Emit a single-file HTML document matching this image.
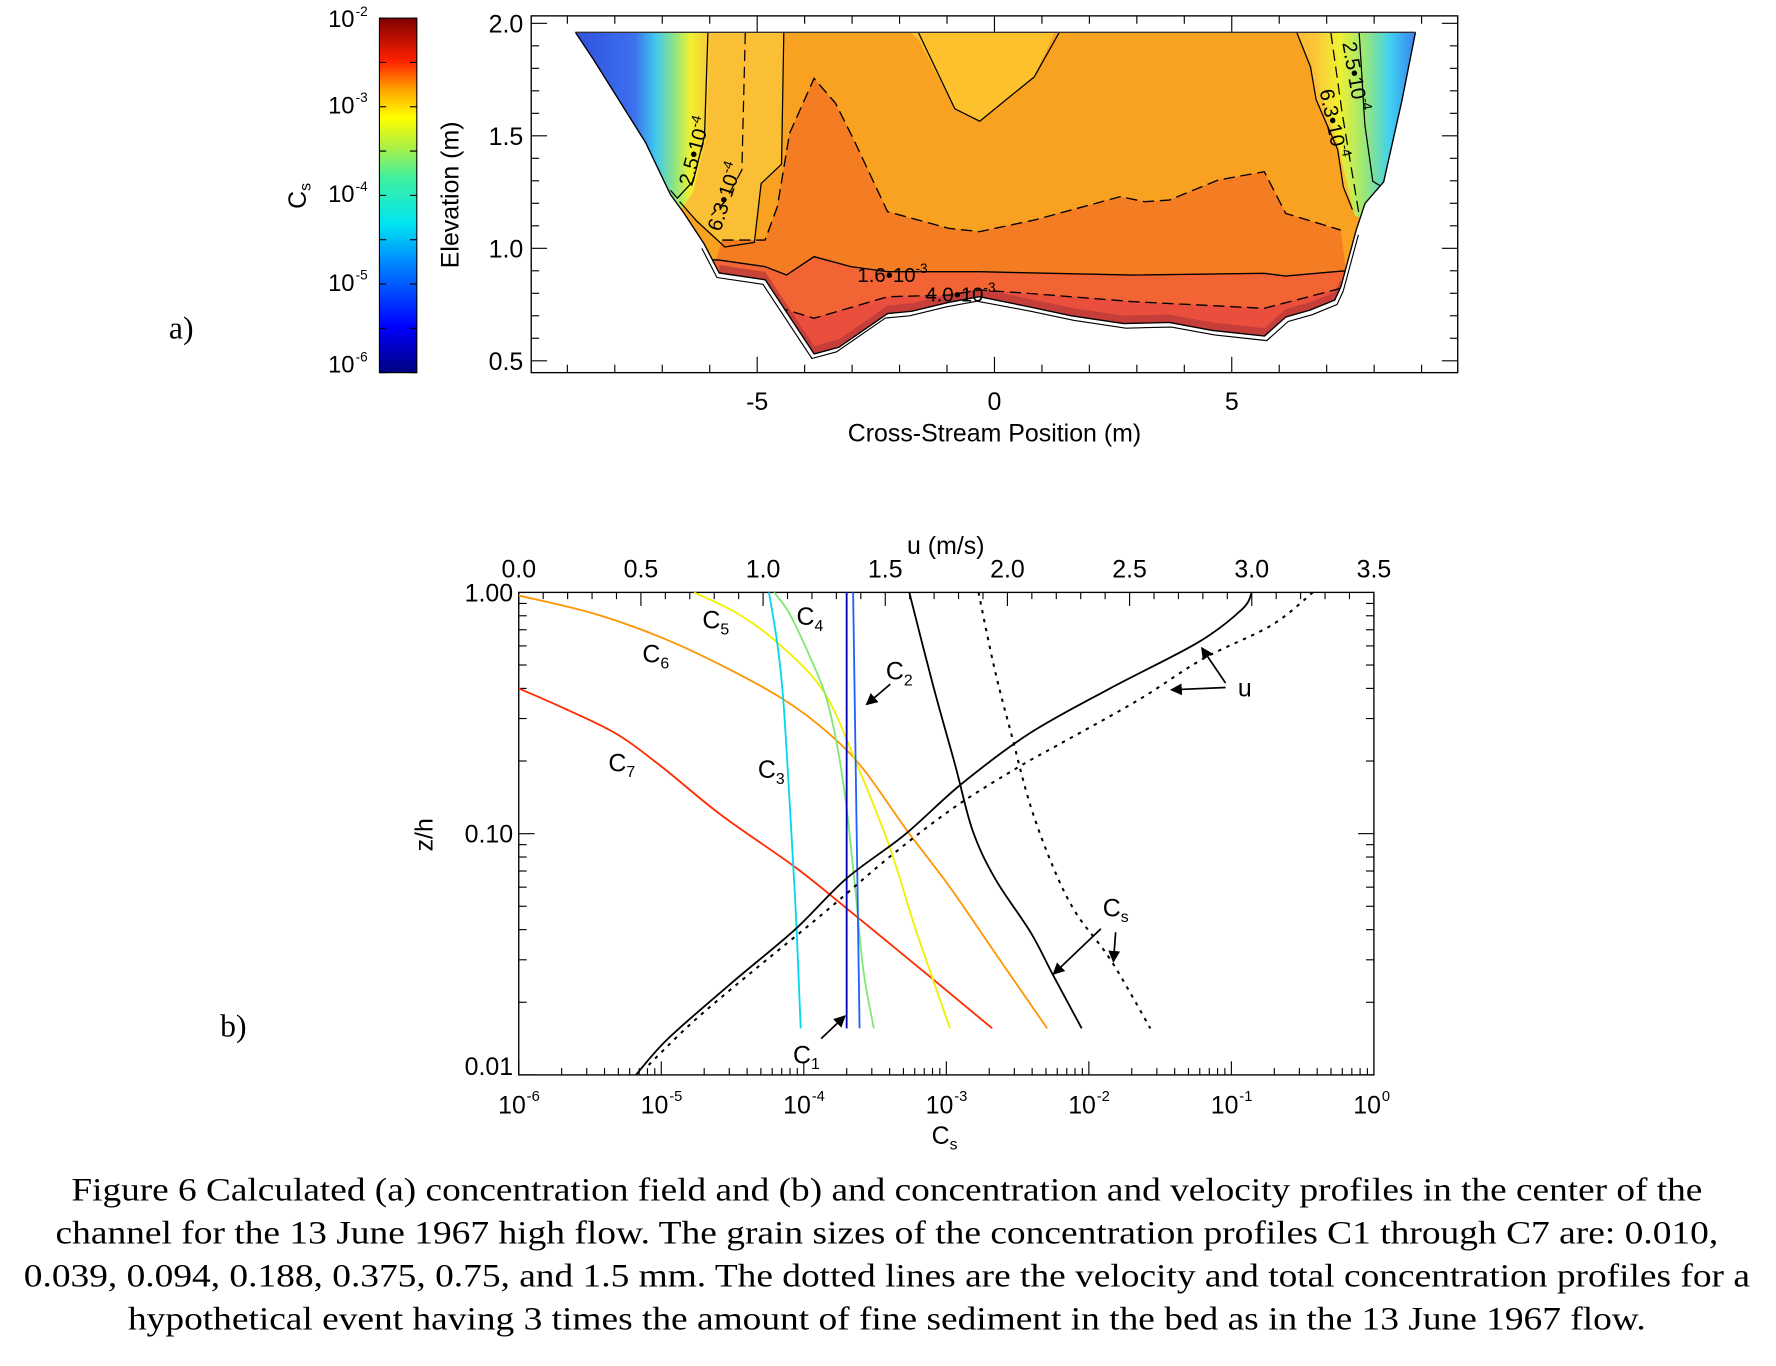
<!DOCTYPE html>
<html><head><meta charset="utf-8">
<style>
html,body{margin:0;padding:0;background:#fff;}
svg{display:block;}
text{font-family:"Liberation Sans",sans-serif;fill:#000;}
.serif{font-family:"Liberation Serif",serif;}
</style></head>
<body>
<svg id="fig" xmlns="http://www.w3.org/2000/svg" width="1776" height="1366" viewBox="0 0 1568 1206">
<defs>
<linearGradient id="jet" x1="0" y1="1" x2="0" y2="0">
<stop offset="0" stop-color="#00007f"/><stop offset="0.13" stop-color="#0000ff"/>
<stop offset="0.32" stop-color="#0090ff"/><stop offset="0.42" stop-color="#00e5f0"/>
<stop offset="0.55" stop-color="#40f0a0"/><stop offset="0.64" stop-color="#b0f040"/>
<stop offset="0.72" stop-color="#ffff00"/><stop offset="0.8" stop-color="#ffa000"/>
<stop offset="0.88" stop-color="#ff2000"/><stop offset="1" stop-color="#7f0000"/>
</linearGradient>
<linearGradient id="leftcold" gradientUnits="userSpaceOnUse" x1="505" y1="0" x2="628" y2="0">
<stop offset="0" stop-color="#3050e0"/><stop offset="0.45" stop-color="#3c70ee"/>
<stop offset="0.6" stop-color="#40c8f0"/><stop offset="0.75" stop-color="#98e878"/>
<stop offset="0.85" stop-color="#f0f030"/><stop offset="1" stop-color="#fbc43a"/>
</linearGradient>
<linearGradient id="rightcold" gradientUnits="userSpaceOnUse" x1="1160" y1="0" x2="1250" y2="0">
<stop offset="0" stop-color="#fbc43a"/><stop offset="0.25" stop-color="#f0f030"/>
<stop offset="0.5" stop-color="#98e878"/><stop offset="0.75" stop-color="#40d0f0"/>
<stop offset="1" stop-color="#3a80ee"/>
</linearGradient>
<clipPath id="chanclip"><polygon id="chanclipPoly" points=""/></clipPath>
<marker id="arr" viewBox="0 0 10 10" refX="9" refY="5" markerWidth="7" markerHeight="7" orient="auto"><path d="M0,0 L10,5 L0,10 z" fill="#000"/></marker>
</defs>
<g id="panelA"></g>
<g id="panelB"></g>
<g id="caption">
<text class="serif" x="783" y="1060" font-size="29" text-anchor="middle" textLength="1440" lengthAdjust="spacingAndGlyphs">Figure 6 Calculated (a) concentration field and (b) and concentration and velocity profiles in the center of the</text>
<text class="serif" x="783" y="1098" font-size="29" text-anchor="middle" textLength="1468" lengthAdjust="spacingAndGlyphs">channel for the 13 June 1967 high flow. The grain sizes of the concentration profiles C1 through C7 are: 0.010,</text>
<text class="serif" x="783" y="1136" font-size="29" text-anchor="middle" textLength="1524" lengthAdjust="spacingAndGlyphs">0.039, 0.094, 0.188, 0.375, 0.75, and 1.5 mm. The dotted lines are the velocity and total concentration profiles for a</text>
<text class="serif" x="783" y="1174" font-size="29" text-anchor="middle" textLength="1340" lengthAdjust="spacingAndGlyphs">hypothetical event having 3 times the amount of fine sediment in the bed as in the 13 June 1967 flow.</text>
</g>
</svg>
<script>
// ---------- Panel a data ----------
var bedX = [-8.83,-8.45,-7.35,-6.83,-6.54,-6.12,-5.80,-4.83,-3.80,-3.28,-2.25,-1.74,-0.96,-0.32,0.72,1.62,2.72,3.68,4.59,5.69,6.14,6.65,7.17,7.30,7.62,7.81,8.20,8.59,8.87];
var bedZ = [1.96,1.84,1.47,1.24,1.155,1.02,0.89,0.86,0.53,0.56,0.71,0.72,0.76,0.785,0.74,0.70,0.665,0.67,0.635,0.61,0.695,0.725,0.77,0.83,1.08,1.20,1.295,1.66,1.96];
var waterLevel = 1.96;
var elevTicks = [0.5,1.0,1.5,2.0];
var elevTickLabels = ["0.5","1.0","1.5","2.0"];
var crossTicks = [-5,0,5];
var crossTickLabels = ["-5","0","5"];
var cbarExps = [-2,-3,-4,-5,-6];

// ---------- Panel b data ----------
var zC1=[1.0,0.0156], vC1=[2.0e-4,2.0e-4];
var zC2=[1.0,0.0156], vC2=[2.22e-4,2.46e-4];
var zC3=[1.0,0.62,0.35,0.099,0.040,0.0156], vC3=[5.7e-5,6.5e-5,7.2e-5,8.2e-5,8.9e-5,9.5e-5];
var zC4=[1.0,0.82,0.55,0.37,0.225,0.13,0.06,0.027,0.0156], vC4=[6.2e-5,7.9e-5,1.09e-4,1.43e-4,1.73e-4,1.99e-4,2.29e-4,2.62e-4,3.1e-4];
var zC5=[1.0,0.82,0.62,0.39,0.19,0.088,0.040,0.0156], vC5=[1.7e-5,3.4e-5,6.5e-5,1.37e-4,2.39e-4,4.0e-4,6.1e-4,1.06e-3];
var zC6=[0.97,0.82,0.65,0.49,0.36,0.26,0.185,0.103,0.06,0.032,0.0156], vC6=[1e-6,3.3e-6,1.0e-5,2.8e-5,7.2e-5,1.5e-4,2.62e-4,5.3e-4,1.06e-3,2.2e-3,5.1e-3];
var zC7=[0.40,0.33,0.26,0.19,0.12,0.073,0.049,0.025,0.0156], vC7=[1e-6,2.1e-6,4.8e-6,1.0e-5,2.6e-5,8.6e-5,2.0e-4,8.0e-4,2.1e-3];
var zCs=[1.0,0.42,0.19,0.103,0.065,0.039,0.026,0.0156], vCs=[5.5e-4,8.0e-4,1.16e-3,1.53e-3,2.2e-3,3.9e-3,5.6e-3,8.9e-3];
var zCsHyp=[1.0,0.47,0.25,0.13,0.073,0.047,0.030,0.0156], vCsHyp=[1.68e-3,2.2e-3,2.9e-3,3.9e-3,5.6e-3,8.1e-3,1.42e-2,2.7e-2];
var zU=[1.0,0.85,0.62,0.40,0.26,0.16,0.099,0.065,0.040,0.024,0.0141,0.01], vU=[3.0,2.96,2.78,2.42,2.09,1.81,1.58,1.34,1.13,0.87,0.61,0.48];
var zUHyp=[1.0,0.73,0.53,0.36,0.24,0.19,0.13,0.082,0.047,0.026,0.0165,0.0107], vUHyp=[3.25,3.08,2.80,2.54,2.23,2.05,1.79,1.53,1.25,0.94,0.71,0.52];
var uTicks=[0,0.5,1.0,1.5,2.0,2.5,3.0,3.5];
var uTickLabels=["0.0","0.5","1.0","1.5","2.0","2.5","3.0","3.5"];
var cExps=[-6,-5,-4,-3,-2,-1,0];
var zhTicks=[1,0.1,0.01];
var zhTickLabels=["1.00","0.10","0.01"];

var NS="http://www.w3.org/2000/svg";
function mk(parent,tag,attrs,txt){var e=document.createElementNS(NS,tag);for(var k in attrs)e.setAttribute(k,attrs[k]);if(txt!==undefined)e.textContent=txt;parent.appendChild(e);return e;}

// ===== Panel a =====
var A=document.getElementById('panelA');
var ax0=469,ax1=1287,ay0=14,ay1=329;
function xA(m){return 878+m*41.9;}
function yA(e){return 20.6+(2-e)*198.6;}
var chanPts=[];
for(var i=0;i<bedX.length;i++)chanPts.push(xA(bedX[i]).toFixed(1)+","+yA(bedZ[i]).toFixed(1));
document.getElementById('chanclipPoly').setAttribute('points',chanPts.join(' '));

var field=mk(A,'g',{'clip-path':'url(#chanclip)'});


mk(field,'rect',{x:ax0,y:ay0,width:ax1-ax0,height:ay1-ay0,fill:'#f9a222'});
mk(field,'polygon',{points:'590,20 692,20 690,145 672,162 666,214 640,218 615,195 595,175',fill:'#fbbf36'});
mk(field,'polygon',{points:'1140,20 1260,20 1260,200 1194,185 1186,165 1181,132 1162,88 1157,59',fill:'#fbbf36'});
mk(field,'polygon',{points:'500,20 628,20 624,120 612,170 596,192 540,190',fill:'url(#leftcold)'});
mk(field,'polygon',{points:'1152,20 1260,20 1260,220 1196,190 1182,130 1165,80',fill:'url(#rightcold)'});
mk(field,'polygon',{points:'794,20 935,20 913,68 892,85 870,103 865,107 843,96 811,35',fill:'#fcc12c'});
var orangeLine='637.6,211.9 675.5,211.9 686.3,182.5 697.1,117.7 718.7,69.2 737.7,91.2 753.9,123.6 783.6,186.9 837.7,201.6 864.7,204.5 913.4,194.2 989.1,173.6 1010.7,178.1 1032.3,176.6 1075.6,158.9 1116.2,151.6 1135.1,188.4 1183.7,203.1';
mk(field,'polygon',{points:orangeLine+' 1200,330 600,330',fill:'#f47c22'});
var redLine='600,228 635,229.6 675.5,235.4 694.4,242.8 718.7,226.6 751.2,235.4 783.6,239.9 864.7,239.9 1000,242.8 1116.2,241.3 1135.1,243.7 1178.3,239.9 1200,238';
mk(field,'polygon',{points:redLine+' 1200,330 600,330',fill:'#f26434'});
var red2='600,245 718.7,281 783.6,262 837.7,260.5 864.7,256 908,259 1000,266.3 1116.2,272.2 1178.3,256 1200,250';
mk(field,'polygon',{points:red2+' 1200,330 600,330',fill:'#ea4e3c'});
// near-bed dark strip (channel floor only)
var sTop=[],sBot=[];
for(var i=6;i<=23;i++){sTop.push(xA(bedX[i]).toFixed(1)+","+yA(bedZ[i]).toFixed(1));}
for(var i=23;i>=6;i--){sBot.push(xA(bedX[i]).toFixed(1)+","+(yA(bedZ[i])-7).toFixed(1));}
mk(field,'polygon',{points:sTop.join(' ')+' '+sBot.join(' '),fill:'#b83a3a',opacity:'0.75'});
// contour lines
mk(field,'polyline',{points:orangeLine,fill:'none',stroke:'#000','stroke-width':1.2,'stroke-dasharray':'10,5'});
mk(field,'polyline',{points:redLine,fill:'none',stroke:'#000','stroke-width':1.2});
mk(field,'polyline',{points:red2,fill:'none',stroke:'#000','stroke-width':1.2,'stroke-dasharray':'10,5'});
mk(field,'polyline',{points:'811,29 843,96 865,107 870,103 892,85 913,68 935,29',fill:'none',stroke:'#000','stroke-width':1.1});
mk(field,'polyline',{points:'692,29 690,145 672,162 666,214 640,218 615,195 600,178',fill:'none',stroke:'#000','stroke-width':1.1});
mk(field,'polyline',{points:'625,29 622,120 612,160 598,175 592,168',fill:'none',stroke:'#000','stroke-width':1.1});
mk(field,'polyline',{points:'658,29 655,150 640,178 628,190',fill:'none',stroke:'#000','stroke-width':1.1,'stroke-dasharray':'10,5'});
mk(field,'polyline',{points:'1145,29 1157,59 1162,88 1181,132 1186,165 1194,185',fill:'none',stroke:'#000','stroke-width':1.1});
mk(field,'polyline',{points:'1175,29 1185,100 1195,160 1200,190',fill:'none',stroke:'#000','stroke-width':1.1,'stroke-dasharray':'10,5'});
mk(field,'polyline',{points:'1200,29 1205,110 1212,160 1220,165',fill:'none',stroke:'#000','stroke-width':1.1});
// bed outline
var bedLine=mk(A,'polyline',{points:chanPts.join(' '),fill:'none',stroke:'#000','stroke-width':1.2});


var off=[];for(var i=5;i<=24;i++)off.push((xA(bedX[i])+(bedX[i]<0?-2:2)).toFixed(1)+","+(yA(bedZ[i])+4).toFixed(1));
mk(A,'polyline',{points:off.join(' '),fill:'none',stroke:'#000','stroke-width':1});
mk(A,'line',{x1:xA(bedX[0]),y1:yA(waterLevel),x2:xA(bedX[bedX.length-1]),y2:yA(waterLevel),stroke:'#333','stroke-width':1.2});
// contour labels
function clabel(x,y,rot,base,exp,name){var t=mk(A,'text',{x:x,y:y,'font-size':18,transform:'rotate('+rot+' '+x+' '+y+')'});
t.appendChild(document.createTextNode(base));mk(t,'tspan',{'font-size':12,dy:-8},exp);return t;}
clabel(611,165,-75,'2.5•10','-4','contour-label-2.5e-4-left');
clabel(636,205,-72,'6.3•10','-4','contour-label-6.3e-4-left');
clabel(1185,38,80,'2.5•10','-4','contour-label-2.5e-4-right');
clabel(1165,80,78,'6.3•10','-4','contour-label-6.3e-4-right');
clabel(757,249,0,'1.6•10','-3','contour-label-1.6e-3');
clabel(817,266,0,'4.0•10','-3','contour-label-4.0e-3');
// frame & ticks
var fA=mk(A,'rect',{x:ax0,y:ay0,width:ax1-ax0,height:ay1-ay0,fill:'none',stroke:'#000','stroke-width':1.2});


for(var e=0.5;e<=2.001;e+=0.1){var y=yA(e);var maj=Math.abs(e*2-Math.round(e*2))<0.01;var L=maj?14:7;
mk(A,'line',{x1:ax0,y1:y,x2:ax0+L,y2:y,stroke:'#000','stroke-width':1});mk(A,'line',{x1:ax1,y1:y,x2:ax1-L,y2:y,stroke:'#000','stroke-width':1});}
for(var m=-9;m<=9;m++){var x=xA(m);var L=(m%5===0)?14:7;
mk(A,'line',{x1:x,y1:ay1,x2:x,y2:ay1-L,stroke:'#000','stroke-width':1});mk(A,'line',{x1:x,y1:ay0,x2:x,y2:ay0+L,stroke:'#000','stroke-width':1});}
for(var i=0;i<elevTicks.length;i++){var t=mk(A,'text',{x:462,y:yA(elevTicks[i])+8,'font-size':22,'text-anchor':'end'},elevTickLabels[i]);}
for(var i=0;i<crossTicks.length;i++){var t=mk(A,'text',{x:xA(crossTicks[i]),y:362,'font-size':22,'text-anchor':'middle'},crossTickLabels[i]);}
var t=mk(A,'text',{x:878,y:390,'font-size':22,'text-anchor':'middle'},'Cross-Stream Position (m)');
t=mk(A,'text',{x:405,y:172,'font-size':22,'text-anchor':'middle',transform:'rotate(-90 405 172)'},'Elevation (m)');
t=mk(A,'text',{x:160,y:299,'font-size':28,'text-anchor':'middle','class':'serif'},'a)');
// colorbar
var cb=mk(A,'rect',{x:335,y:16,width:33,height:313,fill:'url(#jet)',stroke:'#000','stroke-width':1});


function yCB(ex){return 16+(-2-ex)*(313/4);}
for(var k=-6;k<=-2;k+=0.5){var y=yCB(k);mk(A,'line',{x1:335,y1:y,x2:341,y2:y,stroke:'#000'});mk(A,'line',{x1:368,y1:y,x2:362,y2:y,stroke:'#000'});}
for(var i=0;i<cbarExps.length;i++){var y=yCB(cbarExps[i])+(i===0?8:(i===cbarExps.length-1?0:6));var tt=mk(A,'text',{x:313,y:y,'font-size':21,'text-anchor':'end'},'10');mk(A,'text',{x:314,y:y-10,'font-size':12},String(cbarExps[i]));}
t=mk(A,'text',{x:270,y:173,'font-size':22,'text-anchor':'middle',transform:'rotate(-90 270 173)'},'C');
mk(t,'tspan',{'font-size':14,dy:4},'s');

// ===== Panel b =====
var B=document.getElementById('panelB');
var bx0=458,bx1=1213,by0=523,by1=949;
function xC(c){return bx0+(Math.log10(c)+6)*(bx1-bx0)/6;}
function xU(u){return bx0+u*(bx1-bx0)/3.5;}
function yZ(z){return by0-Math.log10(z)*(by1-by0)/2;}
var fB=mk(B,'rect',{x:bx0,y:by0,width:bx1-bx0,height:by1-by0,fill:'none',stroke:'#000','stroke-width':1.2});


for(var d=-6;d<0;d++)for(var k=1;k<10;k++){var x=xC(k*Math.pow(10,d));var L=k===1?12:6;mk(B,'line',{x1:x,y1:by1,x2:x,y2:by1-L,stroke:'#000'});}
for(var d=-2;d<0;d++)for(var k=1;k<10;k++){var y=yZ(k*Math.pow(10,d));var L=k===1?14:7;mk(B,'line',{x1:bx0,y1:y,x2:bx0+L,y2:y,stroke:'#000'});mk(B,'line',{x1:bx1,y1:y,x2:bx1-L,y2:y,stroke:'#000'});}
for(var u=0;u<=3.5001;u+=0.1){var x=xU(u);var maj=Math.abs(u*2-Math.round(u*2))<0.01;mk(B,'line',{x1:x,y1:by0,x2:x,y2:by0+(maj?12:6),stroke:'#000'});}
for(var i=0;i<uTicks.length;i++){var tt=mk(B,'text',{x:xU(uTicks[i]),y:510,'font-size':22,'text-anchor':'middle'},uTickLabels[i]);}
for(var i=0;i<cExps.length;i++){var x=xC(Math.pow(10,cExps[i]));var tt=mk(B,'text',{x:x-6,y:983,'font-size':22,'text-anchor':'middle'},'10');mk(B,'text',{x:x+7,y:972,'font-size':13},String(cExps[i]));}
for(var i=0;i<zhTicks.length;i++){var tt=mk(B,'text',{x:453,y:yZ(zhTicks[i])+8-(i===2?8:0),'font-size':22,'text-anchor':'end'},zhTickLabels[i]);}
t=mk(B,'text',{x:835,y:489,'font-size':22,'text-anchor':'middle'},'u (m/s)');
t=mk(B,'text',{x:834,y:1010,'font-size':22,'text-anchor':'middle'},'C');mk(t,'tspan',{'font-size':14,dy:5},'s');
t=mk(B,'text',{x:382,y:737,'font-size':22,'text-anchor':'middle',transform:'rotate(-90 382 737)'},'z/h');
t=mk(B,'text',{x:206,y:915,'font-size':28,'text-anchor':'middle','class':'serif'},'b)');

function smoothPath(P){if(P.length<3){return 'M'+P.map(function(p){return p[0].toFixed(1)+','+p[1].toFixed(1);}).join(' L');}
var d='M'+P[0][0].toFixed(1)+','+P[0][1].toFixed(1);
for(var i=0;i<P.length-1;i++){var p0=P[Math.max(0,i-1)],p1=P[i],p2=P[i+1],p3=P[Math.min(P.length-1,i+2)];
var c1x=p1[0]+(p2[0]-p0[0])/6,c1y=p1[1]+(p2[1]-p0[1])/6,c2x=p2[0]-(p3[0]-p1[0])/6,c2y=p2[1]-(p3[1]-p1[1])/6;
d+=' C'+c1x.toFixed(1)+','+c1y.toFixed(1)+' '+c2x.toFixed(1)+','+c2y.toFixed(1)+' '+p2[0].toFixed(1)+','+p2[1].toFixed(1);}
return d;}
function curve(zs,vs,isU,color,dash,name){var P=[];for(var i=0;i<zs.length;i++)P.push([isU?xU(vs[i]):xC(vs[i]),yZ(zs[i])]);
var a={d:smoothPath(P),fill:'none',stroke:color,'stroke-width':dash?1.8:1.6,'stroke-linejoin':'round'};if(dash)a['stroke-dasharray']=dash;var el=mk(B,'path',a);

}
curve(zC7,vC7,false,'#ff2a00',null,'line-c7');
curve(zC6,vC6,false,'#ff9500',null,'line-c6');
curve(zC5,vC5,false,'#f0f000',null,'line-c5');
curve(zC4,vC4,false,'#80e870',null,'line-c4');
curve(zC3,vC3,false,'#00d8f0',null,'line-c3');
curve(zC2,vC2,false,'#2060ff',null,'line-c2');
curve(zC1,vC1,false,'#0000b0',null,'line-c1');
curve(zCs,vCs,false,'#000',null,'line-cs');
curve(zCsHyp,vCsHyp,false,'#000','3,5','line-cs-hypothetical');
curve(zU,vU,true,'#000',null,'line-u');
curve(zUHyp,vUHyp,true,'#000','3,5','line-u-hypothetical');

function lab(x,y,sub,name){var tt=mk(B,'text',{x:x,y:y,'font-size':22,'text-anchor':'middle'},'C');mk(tt,'tspan',{'font-size':14,dy:5},sub);}
lab(632,555,'5','label-c5');lab(715,552,'4','label-c4');lab(579,585,'6','label-c6');
lab(794,600,'2','label-c2');lab(549,681,'7','label-c7');lab(681,687,'3','label-c3');
lab(712,939,'1','label-c1');lab(985,809,'s','label-cs');
t=mk(B,'text',{x:1099,y:615,'font-size':22,'text-anchor':'middle'},'u');
function arrow(x1,y1,x2,y2,name){var a=mk(B,'line',{x1:x1,y1:y1,x2:x2,y2:y2,stroke:'#000','stroke-width':1.5,'marker-end':'url(#arr)'});}
arrow(786,604,765,622,'arrow-c2');
arrow(1082,603,1061,572,'arrow-u-solid');
arrow(1082,607,1034,609,'arrow-u-dotted');
arrow(972,820,930,860,'arrow-cs-solid');
arrow(985,823,983,849,'arrow-cs-dotted');
arrow(725,917,746,897,'arrow-c1');
</script>
</body></html>
